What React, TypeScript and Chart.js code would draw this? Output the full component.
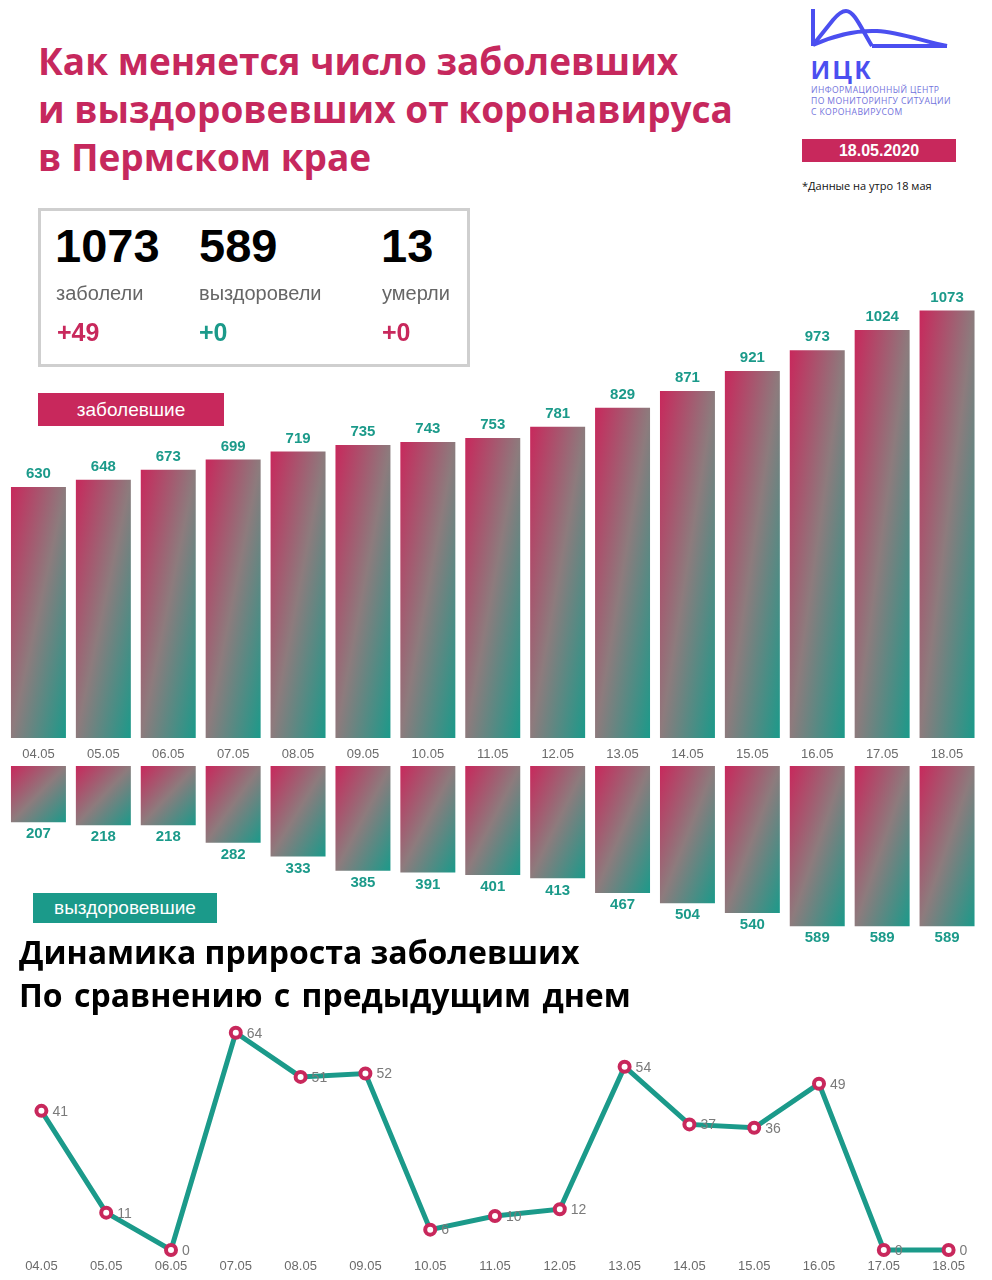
import React, { useEffect, useRef } from "react";
import { Chart, registerables } from "chart.js";

Chart.register(...registerables);

const dates = ["04.05", "05.05", "06.05", "07.05", "08.05", "09.05", "10.05", "11.05", "12.05", "13.05", "14.05", "15.05", "16.05", "17.05", "18.05"];
const sick = [630, 648, 673, 699, 719, 735, 743, 753, 781, 829, 871, 921, 973, 1024, 1073];
const recovered = [207, 218, 218, 282, 333, 385, 391, 401, 413, 467, 504, 540, 589, 589, 589];
const dailyGrowth = [41, 11, 0, 64, 51, 52, 6, 10, 12, 54, 37, 36, 49, 0, 0];

const CRIMSON = "#c8285c";
const TEAL = "#1b9a8a";
const MID = "#8d7b7d";
const BAR_PCT = 0.847;
const SANS = "'Liberation Sans', Arial, sans-serif";

function barGradient(ctx: any) {
  const chart = ctx.chart;
  if (!chart.chartArea || ctx.type !== "data") return CRIMSON;
  const xs = chart.scales.x;
  const ys = chart.scales.y;
  const n = chart.data.labels.length;
  const cx = xs.getPixelForValue(ctx.dataIndex);
  const w = ((xs.right - xs.left) / n) * BAR_PCT;
  const a = ys.getPixelForValue(ctx.raw);
  const b = ys.getPixelForValue(0);
  const y0 = Math.min(a, b);
  const h = Math.max(1, Math.abs(b - a));
  const x0 = cx - w / 2;
  const k = (2 * w * h) / (w * w + h * h);
  const g = chart.ctx.createLinearGradient(x0, y0, x0 + h * k, y0 + w * k);
  g.addColorStop(0, CRIMSON);
  g.addColorStop(0.5, MID);
  g.addColorStop(1, TEAL);
  return g;
}

function valueLabels(pos: "above" | "below") {
  return {
    id: "valueLabels",
    afterDatasetsDraw(chart: any) {
      const c = chart.ctx;
      const meta = chart.getDatasetMeta(0);
      const data = chart.data.datasets[0].data;
      c.save();
      c.font = `bold 15px ${SANS}`;
      c.fillStyle = TEAL;
      c.textAlign = "center";
      c.textBaseline = "middle";
      meta.data.forEach((el: any, i: number) => {
        c.fillText(String(data[i]), el.x, pos === "above" ? el.y - 13 : el.y + 12);
      });
      c.restore();
    },
  };
}

const pointLabels = {
  id: "pointLabels",
  afterDatasetsDraw(chart: any) {
    const c = chart.ctx;
    const meta = chart.getDatasetMeta(0);
    const data = chart.data.datasets[0].data;
    c.save();
    c.font = `14px ${SANS}`;
    c.fillStyle = "#7a7a7a";
    c.textAlign = "left";
    c.textBaseline = "middle";
    meta.data.forEach((el: any, i: number) => {
      c.fillText(String(data[i]), el.x + 11, el.y + 1);
    });
    c.restore();
  },
};

function useChart(ref: React.RefObject<HTMLCanvasElement>, make: () => any) {
  useEffect(() => {
    if (!ref.current) return;
    const ch = new Chart(ref.current, make());
    return () => ch.destroy();
  }, []);
}

const xTicks = (pad: number) => ({
  display: true,
  offset: true,
  grid: { display: false, drawTicks: false },
  border: { display: false },
  ticks: { color: "#6b6b6b", font: { family: SANS, size: 13 }, padding: pad, maxRotation: 0, autoSkip: false },
  afterFit: (s: any) => {
    s.height = 30;
  },
});

export default function App() {
  const topRef = useRef<HTMLCanvasElement>(null);
  const botRef = useRef<HTMLCanvasElement>(null);
  const lineRef = useRef<HTMLCanvasElement>(null);

  useChart(topRef, () => ({
    type: "bar",
    data: {
      labels: dates,
      datasets: [{ data: sick, backgroundColor: barGradient, categoryPercentage: 1, barPercentage: BAR_PCT, borderWidth: 0 }],
    },
    options: {
      responsive: false,
      animation: false,
      layout: { padding: { left: 6, right: 12.5, top: 0, bottom: 0 } },
      plugins: { legend: { display: false }, tooltip: { enabled: false } },
      scales: {
        x: xTicks(9),
        y: { display: false, min: 0, max: 1149.3 },
      },
    },
    plugins: [valueLabels("above")],
  }));

  useChart(botRef, () => ({
    type: "bar",
    data: {
      labels: dates,
      datasets: [{ data: recovered, backgroundColor: barGradient, categoryPercentage: 1, barPercentage: BAR_PCT, borderWidth: 0 }],
    },
    options: {
      responsive: false,
      animation: false,
      layout: { padding: { left: 6, right: 12.5, top: 0, bottom: 0 } },
      plugins: { legend: { display: false }, tooltip: { enabled: false } },
      scales: {
        x: { display: false },
        y: { display: false, min: 0, max: 713, reverse: true },
      },
    },
    plugins: [valueLabels("below")],
  }));

  useChart(lineRef, () => ({
    type: "line",
    data: {
      labels: dates,
      datasets: [
        {
          data: dailyGrowth,
          borderColor: TEAL,
          borderWidth: 5,
          pointRadius: 5,
          pointBorderWidth: 4,
          pointBackgroundColor: "#ffffff",
          pointBorderColor: CRIMSON,
          tension: 0,
          clip: false,
        },
      ],
    },
    options: {
      responsive: false,
      animation: false,
      layout: { padding: { left: 8, right: 11, top: 0, bottom: 0 } },
      plugins: { legend: { display: false }, tooltip: { enabled: false } },
      scales: {
        x: xTicks(9),
        y: { display: false, min: 0, max: 71 },
      },
    },
    plugins: [pointLabels],
  }));

  const abs = (l: number, t: number, extra: React.CSSProperties = {}): React.CSSProperties => ({
    position: "absolute",
    left: l,
    top: t,
    zIndex: 2,
    whiteSpace: "nowrap",
    ...extra,
  });

  const title: React.CSSProperties = {
    fontFamily: "'Open Sans', sans-serif",
    fontWeight: 700,
    fontSize: 37,
    color: "#c6285d",
    lineHeight: "48px",
  };

  const bigNum: React.CSSProperties = { fontFamily: SANS, fontWeight: 700, fontSize: 47, color: "#000", lineHeight: "50px" };
  const lbl: React.CSSProperties = { fontFamily: SANS, fontSize: 20, color: "#666", lineHeight: "24px" };
  const delta = (c: string): React.CSSProperties => ({ fontFamily: SANS, fontWeight: 700, fontSize: 25, color: c, lineHeight: "30px" });
  const sub: React.CSSProperties = {
    fontFamily: "'Open Sans', sans-serif",
    fontWeight: 700,
    fontSize: 32,
    color: "#000",
    lineHeight: "43px",
  };

  return (
    <div style={{ position: "absolute", left: 0, top: 0, width: 992, height: 1280, background: "#fff", overflow: "hidden" }}>
      {/* Title */}
      <div style={abs(38, 37, title)}>
        Как меняется число заболевших
        <br />и выздоровевших от коронавируса
        <br />в Пермском крае
      </div>

      {/* Logo */}
      <svg style={abs(800, 0)} width={160} height={56} viewBox="0 0 160 56">
        <g fill="none" stroke="#4b4ff0" strokeWidth={4} strokeLinecap="butt" strokeLinejoin="round">
          <path d="M13 9 V46" />
          <path d="M13 45 L 33 20 C 38 14, 42 11, 46 11 C 54 11, 60 26, 72 46" />
          <path d="M13 45 C 35 35, 55 30, 77 31 C 100 32, 125 42, 147 46" />
          <path d="M72 46 H147" />
        </g>
      </svg>
      <div style={abs(811, 55, { fontFamily: SANS, fontWeight: 700, fontSize: 26, color: "#4b4ff0", letterSpacing: 3, lineHeight: "30px" })}>ИЦК</div>
      <div style={abs(811, 85, { fontFamily: "'Open Sans', sans-serif", fontSize: 8.6, color: "#7272dc", lineHeight: "11px", letterSpacing: 0.4 })}>
        ИНФОРМАЦИОННЫЙ ЦЕНТР
        <br />
        ПО МОНИТОРИНГУ СИТУАЦИИ
        <br />С КОРОНАВИРУСОМ
      </div>
      <div
        style={abs(802, 139, {
          width: 154,
          height: 23,
          background: CRIMSON,
          color: "#fff",
          fontFamily: SANS,
          fontWeight: 700,
          fontSize: 16,
          lineHeight: "23px",
          textAlign: "center",
        })}
      >
        18.05.2020
      </div>
      <div style={abs(802, 178, { fontFamily: "'Open Sans', sans-serif", fontSize: 11, color: "#111", lineHeight: "16px" })}>*Данные на утро 18 мая</div>

      {/* Stats box */}
      <div style={abs(38, 208, { width: 426, height: 153, border: "3px solid #cfcfcf", background: "#fff", zIndex: 1 })} />
      <div style={abs(55, 221, bigNum)}>1073</div>
      <div style={abs(199, 221, bigNum)}>589</div>
      <div style={abs(381, 221, bigNum)}>13</div>
      <div style={abs(56, 281, lbl)}>заболели</div>
      <div style={abs(199, 281, lbl)}>выздоровели</div>
      <div style={abs(382, 281, lbl)}>умерли</div>
      <div style={abs(57, 317, delta(CRIMSON))}>+49</div>
      <div style={abs(199, 317, delta(TEAL))}>+0</div>
      <div style={abs(382, 317, delta(CRIMSON))}>+0</div>

      {/* Section labels */}
      <div
        style={abs(38, 393, {
          width: 186,
          height: 33,
          background: CRIMSON,
          color: "#fff",
          fontFamily: SANS,
          fontSize: 19,
          lineHeight: "33px",
          textAlign: "center",
        })}
      >
        заболевшие
      </div>
      <div
        style={abs(33, 893, {
          width: 184,
          height: 30,
          background: TEAL,
          color: "#fff",
          fontFamily: SANS,
          fontSize: 19,
          lineHeight: "30px",
          textAlign: "center",
        })}
      >
        выздоровевшие
      </div>

      {/* Second title */}
      <div style={abs(19, 930, sub)}>Динамика прироста заболевших</div>
      <div style={abs(19, 973, { ...sub, wordSpacing: 3 })}>По сравнению с предыдущим днем</div>

      {/* Charts */}
      <canvas ref={topRef} width={992} height={488} style={{ position: "absolute", left: 0, top: 280, zIndex: 1 }} />
      <canvas ref={botRef} width={992} height={194} style={{ position: "absolute", left: 0, top: 766, zIndex: 1 }} />
      <canvas ref={lineRef} width={992} height={280} style={{ position: "absolute", left: 0, top: 1000, zIndex: 1 }} />
    </div>
  );
}
